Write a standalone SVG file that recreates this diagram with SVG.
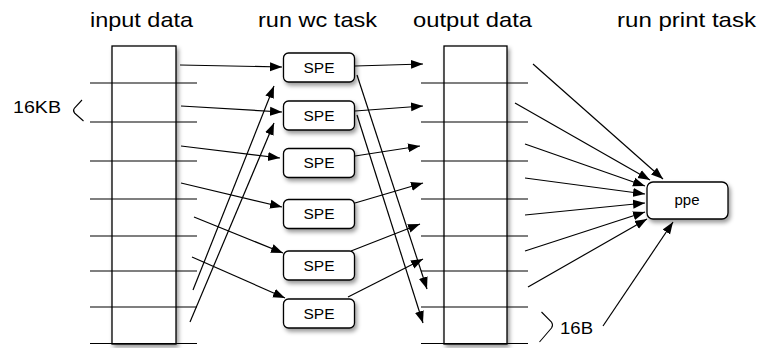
<svg xmlns="http://www.w3.org/2000/svg" width="758" height="348" viewBox="0 0 758 348">
<style>
text{font-family:"Liberation Sans",Arial,Helvetica,sans-serif;fill:#000}
.title{font-size:21px}
.lbl{font-size:17px}
.box{fill:#fff;stroke:#000;stroke-width:1.3;filter:url(#sh)}
.bt{font-size:14px;text-anchor:middle}
.sep{stroke:#000;stroke-width:1.2}
.con{stroke:#000;stroke-width:1.2;fill:none;marker-end:url(#ah)}
.br{stroke:#000;stroke-width:1.1;fill:none}
</style>
<defs>
<filter id="sh" x="-20%" y="-20%" width="150%" height="150%">
<feDropShadow dx="2" dy="3" stdDeviation="2.2" flood-color="#000" flood-opacity="0.4"/>
</filter>
<marker id="ah" viewBox="0 0 12 10" refX="12" refY="5" markerWidth="12" markerHeight="10" markerUnits="userSpaceOnUse" orient="auto">
<path d="M0,0.5 L12,5 L0,9.5 z" fill="#000"/>
</marker>
</defs>
<rect width="758" height="348" fill="#fff"/>
<g id="titles">
<text class="title" x="90" y="27" textLength="103" lengthAdjust="spacingAndGlyphs">input data</text>
<text class="title" x="258" y="27" textLength="119" lengthAdjust="spacingAndGlyphs">run wc task</text>
<text class="title" x="413" y="27" textLength="119" lengthAdjust="spacingAndGlyphs">output data</text>
<text class="title" x="617" y="27" textLength="139" lengthAdjust="spacingAndGlyphs">run print task</text>
</g>
<g id="input-data">
<rect class="box" x="112" y="46" width="64" height="298"/>
<g class="sep">
<line x1="90" y1="83" x2="197" y2="83"/>
<line x1="90" y1="122" x2="197" y2="122"/>
<line x1="90" y1="161" x2="197" y2="161"/>
<line x1="90" y1="199" x2="197" y2="199"/>
<line x1="90" y1="236" x2="197" y2="236"/>
<line x1="90" y1="271" x2="197" y2="271"/>
<line x1="90" y1="307" x2="197" y2="307"/>
<line x1="90" y1="343.5" x2="197" y2="343.5"/>
</g>
</g>
<g id="output-data">
<rect class="box" x="444" y="46" width="63" height="298"/>
<g class="sep">
<line x1="421" y1="83" x2="528" y2="83"/>
<line x1="421" y1="122" x2="528" y2="122"/>
<line x1="421" y1="161" x2="528" y2="161"/>
<line x1="421" y1="199" x2="528" y2="199"/>
<line x1="421" y1="236" x2="528" y2="236"/>
<line x1="421" y1="271" x2="528" y2="271"/>
<line x1="421" y1="307" x2="528" y2="307"/>
<line x1="421" y1="343.5" x2="528" y2="343.5"/>
</g>
</g>
<g id="label-16KB">
<text class="lbl" x="13" y="113" textLength="48" lengthAdjust="spacingAndGlyphs">16KB</text>
<path class="br" d="M82,100 L74.5,108 Q72.5,110.5 74.5,113 L83.5,121"/>
</g>
<g id="label-16B">
<text class="lbl" x="560" y="334" textLength="33" lengthAdjust="spacingAndGlyphs">16B</text>
<path class="br" d="M541.5,312 L551.5,322 Q553.5,325 551.5,328 L539.5,342"/>
</g>
<g id="spe1"><rect class="box" x="283.5" y="53" width="71" height="29" rx="5"/><text class="bt" x="319" y="72.5" textLength="31" lengthAdjust="spacingAndGlyphs">SPE</text></g>
<g id="spe2"><rect class="box" x="283.5" y="101" width="71" height="29" rx="5"/><text class="bt" x="319" y="120.5" textLength="31" lengthAdjust="spacingAndGlyphs">SPE</text></g>
<g id="spe3"><rect class="box" x="283.5" y="148.5" width="71" height="29" rx="5"/><text class="bt" x="319" y="168" textLength="31" lengthAdjust="spacingAndGlyphs">SPE</text></g>
<g id="spe4"><rect class="box" x="283.5" y="199.5" width="71" height="29" rx="5"/><text class="bt" x="319" y="219" textLength="31" lengthAdjust="spacingAndGlyphs">SPE</text></g>
<g id="spe5"><rect class="box" x="283.5" y="251" width="71" height="29" rx="5"/><text class="bt" x="319" y="270.5" textLength="31" lengthAdjust="spacingAndGlyphs">SPE</text></g>
<g id="spe6"><rect class="box" x="283.5" y="299" width="71" height="29" rx="5"/><text class="bt" x="319" y="318.5" textLength="31" lengthAdjust="spacingAndGlyphs">SPE</text></g>
<g id="ppe"><rect class="box" x="647" y="182" width="81" height="37" rx="6"/><text class="bt" x="687" y="205" textLength="25" lengthAdjust="spacingAndGlyphs">ppe</text></g>
<g id="connectors">
<line class="con" x1="180" y1="65" x2="282" y2="67"/>
<line class="con" x1="181" y1="106" x2="282" y2="112"/>
<line class="con" x1="181" y1="146" x2="280" y2="158"/>
<line class="con" x1="181" y1="183" x2="282" y2="207"/>
<line class="con" x1="194" y1="217" x2="283" y2="253"/>
<line class="con" x1="192" y1="257" x2="285" y2="298"/>
<line class="con" x1="193" y1="290" x2="274" y2="86"/>
<line class="con" x1="190" y1="322" x2="274" y2="123"/>
<line class="con" x1="355" y1="66" x2="423" y2="64"/>
<line class="con" x1="355" y1="111" x2="423" y2="106"/>
<line class="con" x1="355" y1="156" x2="420" y2="146"/>
<line class="con" x1="355" y1="203" x2="423" y2="183"/>
<line class="con" x1="351" y1="251" x2="420" y2="224"/>
<line class="con" x1="348" y1="297" x2="423" y2="259"/>
<line class="con" x1="357" y1="75" x2="427" y2="289"/>
<line class="con" x1="357" y1="115" x2="423" y2="323"/>
<line class="con" x1="533" y1="64" x2="663" y2="179"/>
<line class="con" x1="515" y1="103" x2="650" y2="180"/>
<line class="con" x1="525" y1="144" x2="645" y2="186"/>
<line class="con" x1="525" y1="178" x2="645" y2="194"/>
<line class="con" x1="525" y1="215" x2="645" y2="203"/>
<line class="con" x1="525" y1="251" x2="645" y2="212"/>
<line class="con" x1="528" y1="287" x2="647" y2="219"/>
<line class="con" x1="603" y1="326" x2="673" y2="222"/>
</g>
</svg>
